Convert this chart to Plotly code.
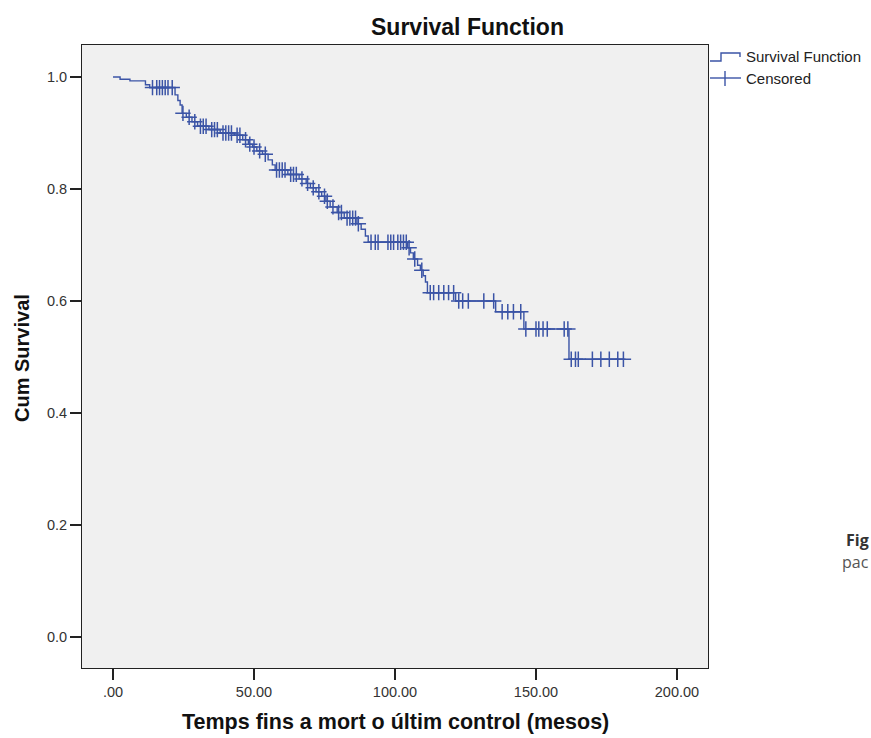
import numpy as np
import plotly.graph_objects as go

# Kaplan-Meier step points (time in months, cumulative survival after the step)
event_times = [0, 2.5, 6, 11.5, 13, 22, 23, 23.8, 24.5, 26, 28, 30, 34, 38, 43, 46, 48, 49.5,
               51, 53, 55, 56.5, 57.5, 62, 66, 68.5, 70, 72, 74, 75.5, 77, 79.5, 82, 86.5,
               88, 89.5, 90.5, 104.5, 105.5, 106.5, 108, 109, 110, 110.8, 111.5, 121.5,
               135.7, 145.7, 161.7]
survival = [1.0, 0.996, 0.993, 0.986, 0.981, 0.968, 0.958, 0.95, 0.935, 0.928, 0.92, 0.912,
            0.906, 0.9, 0.896, 0.888, 0.88, 0.875, 0.868, 0.862, 0.852, 0.843, 0.834, 0.826,
            0.818, 0.81, 0.802, 0.795, 0.787, 0.778, 0.768, 0.758, 0.748, 0.738, 0.728,
            0.716, 0.705, 0.695, 0.686, 0.675, 0.664, 0.655, 0.645, 0.634, 0.615, 0.600,
            0.581, 0.550, 0.496]
last_time = 181

censor_times = [14, 15.5, 16.5, 17.5, 18.5, 19.5, 21, 24.8, 27, 29, 31, 32, 33, 35, 36, 37,
                39, 40, 41, 42, 44, 45, 47, 48.5, 50, 52, 54, 58, 59, 60, 61, 63, 64, 65, 67,
                69, 71, 73, 75, 76, 78, 80, 81, 83, 84, 85, 86, 87, 91.5, 93, 94, 97.5, 98.5,
                99.5, 101, 102, 103, 104, 105, 107, 109.5, 112.5, 113.7, 115.5, 117.3, 119,
                120.8, 122.6, 124, 126, 131.5, 135, 138, 140, 142, 144.6, 146.4, 150, 151,
                152.5, 154, 160, 161.3, 162.5, 164, 165, 170, 173, 176, 179, 181]

x_ticks = [0, 50, 100, 150, 200]
x_tick_labels = [".00", "50.00", "100.00", "150.00", "200.00"]
y_ticks = [0.0, 0.2, 0.4, 0.6, 0.8, 1.0]
y_tick_labels = ["0.0", "0.2", "0.4", "0.6", "0.8", "1.0"]

BLUE = "#3b54a6"

# step-curve survival level at each censor time
ev = np.array(event_times)
sv = np.array(survival)
censor_surv = [float(sv[np.searchsorted(ev, t, side="right") - 1]) for t in censor_times]

line_x = list(event_times) + [last_time]
line_y = list(survival) + [survival[-1]]

fig = go.Figure()
fig.add_trace(go.Scatter(x=line_x, y=line_y, mode="lines", line=dict(shape="hv", color=BLUE, width=1.4),
                         showlegend=False, hoverinfo="skip"))
fig.add_trace(go.Scatter(x=censor_times, y=censor_surv, mode="markers",
                         marker=dict(symbol="cross-thin", size=11, line=dict(color=BLUE, width=1.5)),
                         showlegend=False))

W, H = 871, 738
L, R, T, B = 82, 708, 45, 668


def px(x):
    return (x - L) / (R - L)


def py(y):
    return (B - y) / (B - T)


FONT = "Liberation Sans, Arial, sans-serif"
axis_font = dict(family=FONT, size=14.5, color="#333333")

fig.update_layout(
    width=W, height=H,
    margin=dict(l=L, r=W - R, t=T, b=H - B),
    paper_bgcolor="white",
    plot_bgcolor="#f0f0f0",
    showlegend=False,
    xaxis=dict(range=[-11, 211], tickvals=x_ticks, ticktext=x_tick_labels, showgrid=False,
               zeroline=False, showline=True, mirror=True, linecolor="#222222", linewidth=1,
               ticks="outside", ticklen=11, tickwidth=2, tickcolor="#222222", tickfont=axis_font),
    yaxis=dict(range=[-0.055, 1.057], tickvals=y_ticks, ticktext=y_tick_labels, showgrid=False,
               zeroline=False, showline=True, mirror=True, linecolor="#222222", linewidth=1,
               ticks="outside", ticklen=11, tickwidth=2, tickcolor="#222222", tickfont=axis_font),
)

annotations = [
    dict(text="<b>Survival Function</b>", x=px(467), y=py(27), xref="paper", yref="paper",
         showarrow=False, font=dict(family=FONT, size=23, color="#111111"),
         xanchor="center", yanchor="middle"),
    dict(text="<b>Temps fins a mort o últim control (mesos)</b>", x=px(395), y=py(722), xref="paper",
         yref="paper", showarrow=False, font=dict(family=FONT, size=21.5, color="#111111"),
         xanchor="center", yanchor="middle"),
    dict(text="<b>Cum Survival</b>", x=px(22), y=py(358), xref="paper", yref="paper", showarrow=False,
         font=dict(family=FONT, size=20, color="#111111"),
         textangle=-90, xanchor="center", yanchor="middle"),
    dict(text="Survival Function", x=px(744), y=py(57), xref="paper", yref="paper", showarrow=False,
         font=dict(family=FONT, size=15, color="#222222"),
         xanchor="left", yanchor="middle"),
    dict(text="Censored", x=px(744), y=py(78), xref="paper", yref="paper", showarrow=False,
         font=dict(family=FONT, size=15, color="#222222"),
         xanchor="left", yanchor="middle"),
    dict(text="<b>Fig</b>", x=px(871), y=py(540), xref="paper", yref="paper", showarrow=False,
         font=dict(family="Open Sans, sans-serif", size=16, color="#333333"),
         xanchor="right", yanchor="middle"),
    dict(text="pac", x=px(871), y=py(562), xref="paper", yref="paper", showarrow=False,
         font=dict(family="Open Sans, sans-serif", size=16, color="#555555"),
         xanchor="right", yanchor="middle"),
]
fig.update_layout(annotations=annotations)

shapes = [
    # legend icon: step line
    dict(type="path", xref="paper", yref="paper",
         path=f"M {px(710)},{py(61)} L {px(721)},{py(61)} L {px(721)},{py(53)} L {px(740)},{py(53)} L {px(740)},{py(57)}",
         line=dict(color=BLUE, width=1.4)),
    # legend icon: censored cross
    dict(type="line", xref="paper", yref="paper", x0=px(710), x1=px(741), y0=py(78), y1=py(78),
         line=dict(color=BLUE, width=1.4)),
    dict(type="line", xref="paper", yref="paper", x0=px(725), x1=px(725), y0=py(71), y1=py(86),
         line=dict(color=BLUE, width=1.4)),
]
fig.update_layout(shapes=shapes)

fig.write_html("out.html")
